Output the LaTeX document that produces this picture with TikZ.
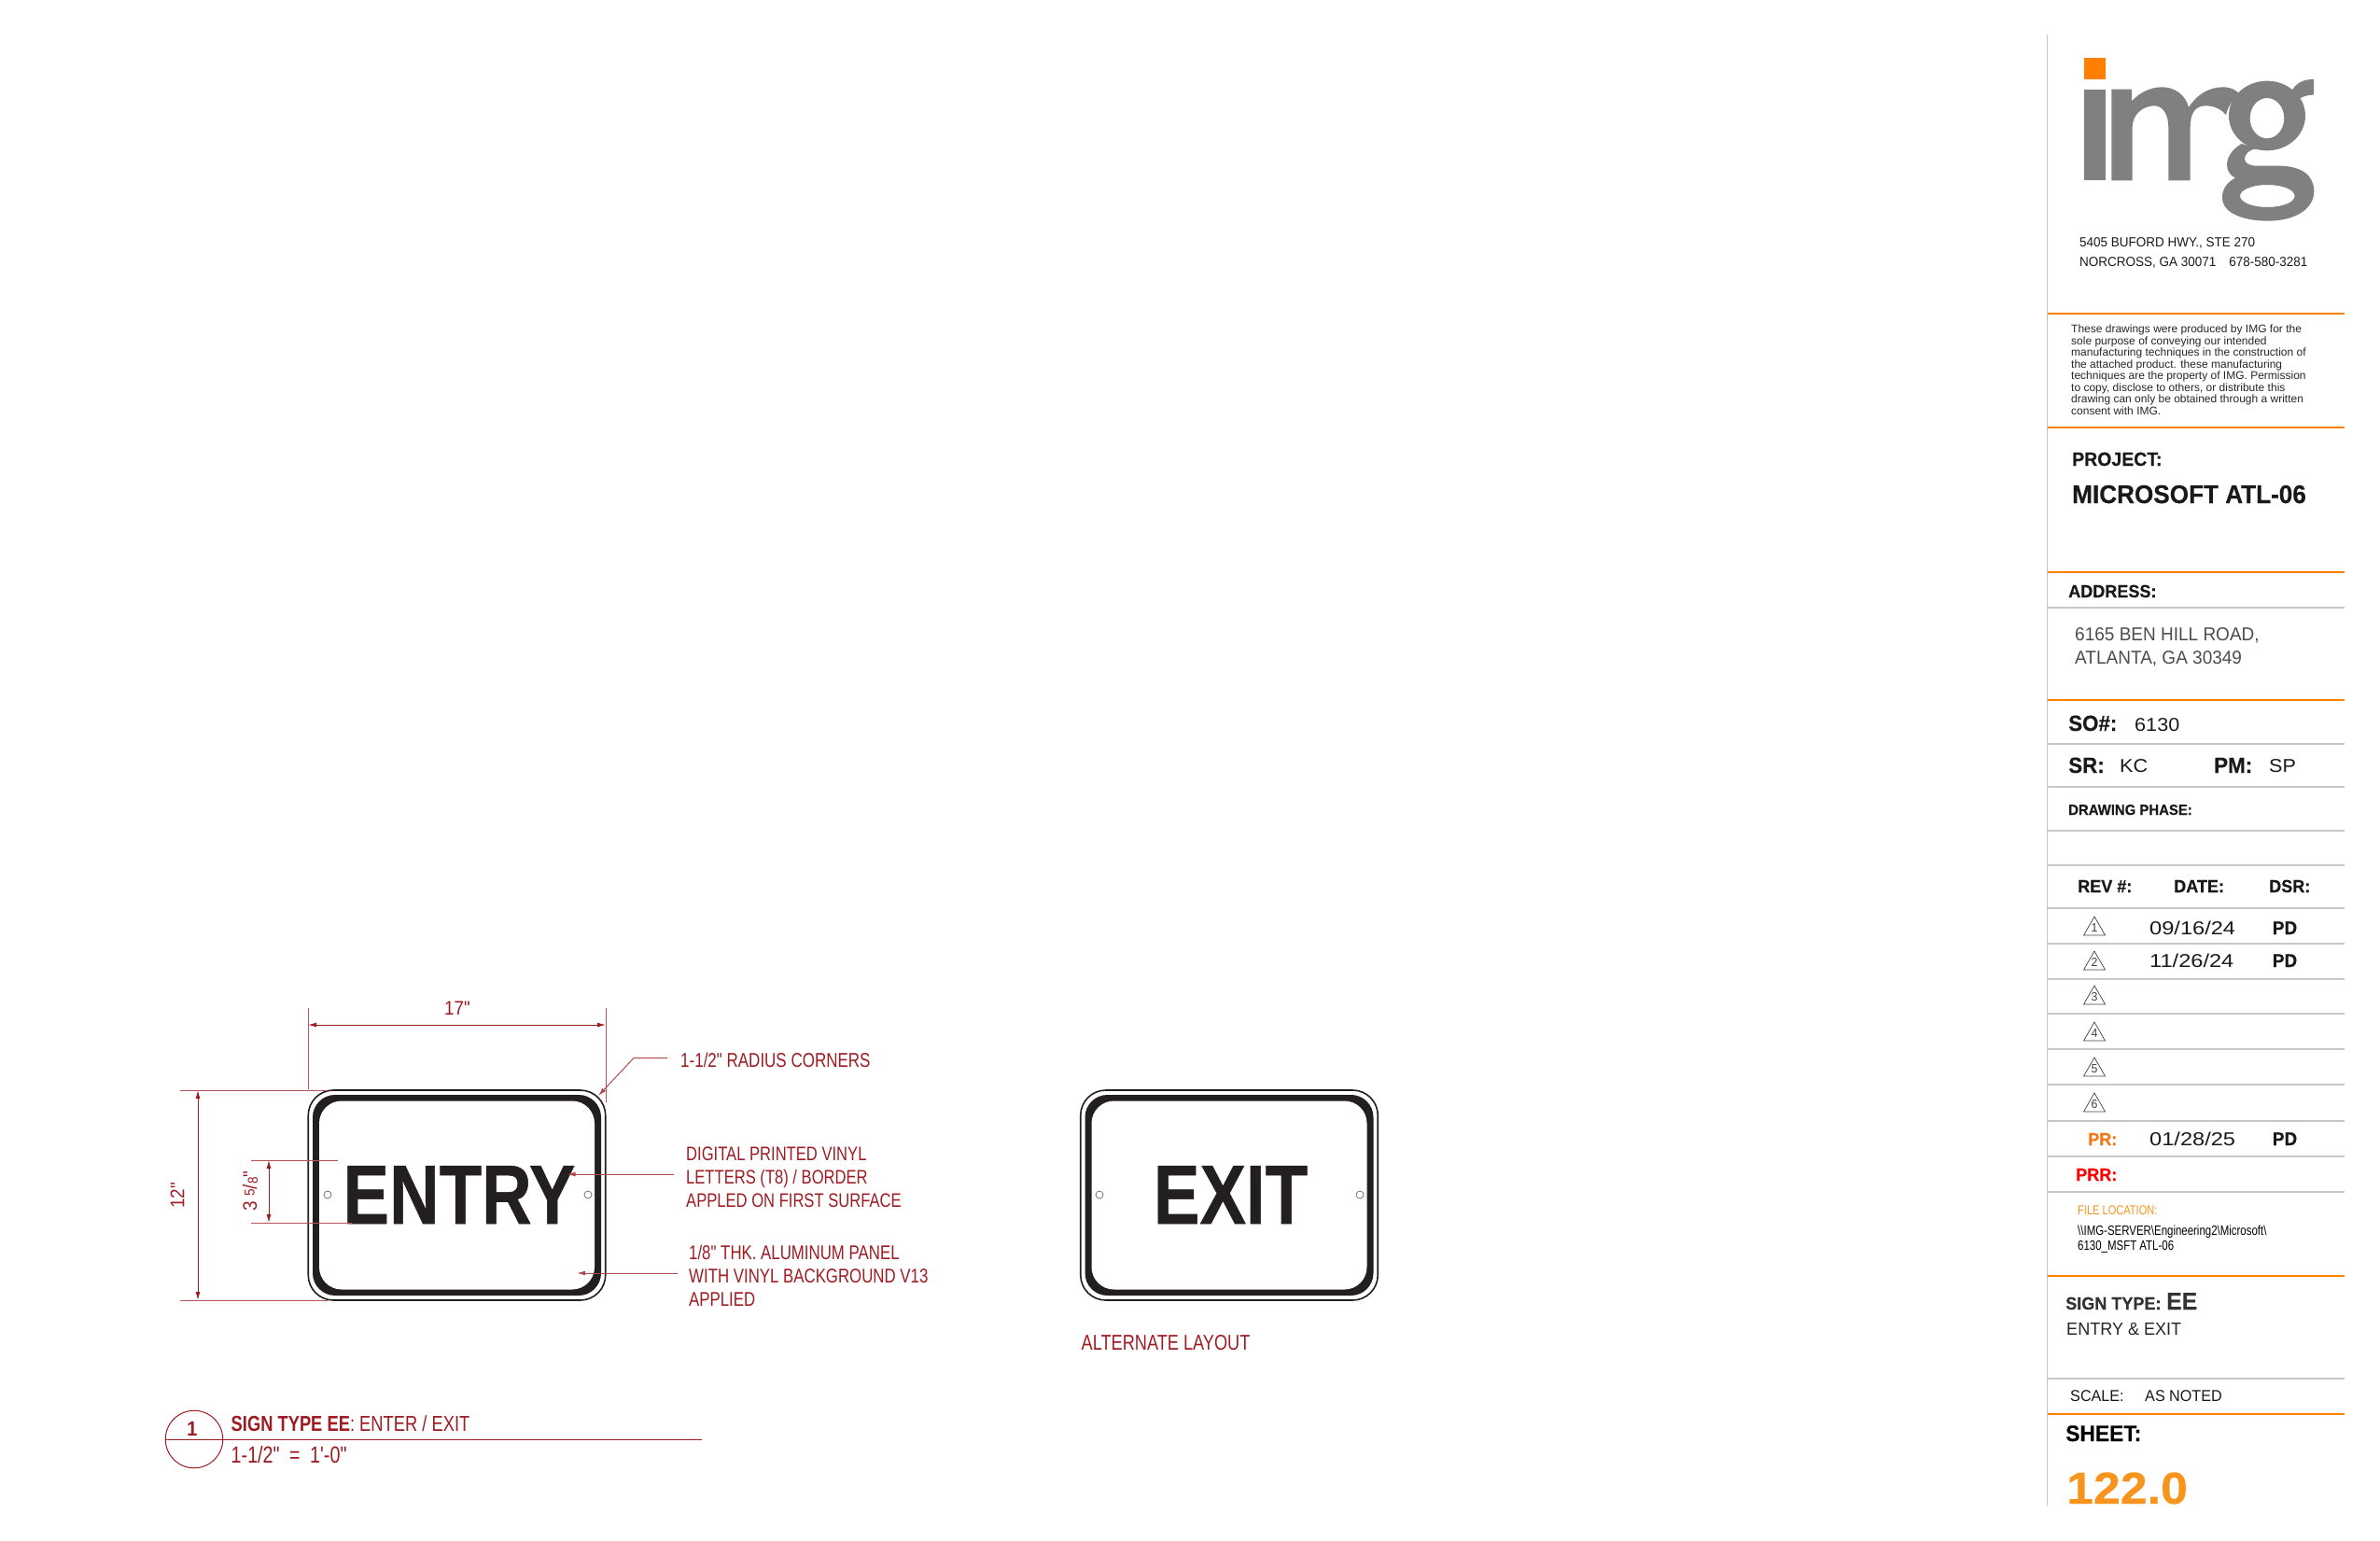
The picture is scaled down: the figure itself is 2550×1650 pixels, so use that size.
\documentclass[tikz,border=0pt]{standalone}
\usepackage{fontspec}
\usepackage{xcolor}
\usetikzlibrary{arrows.meta}
\usetikzlibrary{positioning}
\setmainfont{Liberation Sans}
\newfontfamily\condfont[FakeStretch=0.79]{Liberation Sans}
\newfontfamily\dimfont[FakeStretch=0.9]{Liberation Sans}
\newfontfamily\signfont[FakeStretch=0.825,BoldFeatures={FakeBold=0.6}]{Liberation Sans}
\newfontfamily\sidefont[FakeStretch=0.95,BoldFeatures={FakeBold=0.4}]{Liberation Sans}
\newfontfamily\discfont{Liberation Sans}
\newfontfamily\datefont[FakeStretch=1.18]{Liberation Sans}
\newfontfamily\numfont[FakeStretch=1.08,BoldFeatures={FakeBold=0.5}]{Liberation Sans}
\newcommand{\fsz}[2]{\fontsize{#1}{#2}\selectfont}
\definecolor{signred}{HTML}{9E1B22}
\definecolor{signblack}{HTML}{231F20}
\definecolor{imgorange}{HTML}{FF8000}
\definecolor{imggrey}{HTML}{808080}
\definecolor{sheetorange}{HTML}{F7941D}
\tikzset{
  lbl/.style={anchor=base west,inner sep=0pt},
  nw/.style={anchor=north west,inner sep=0pt,align=left},
  note/.style={nw,text=signred,font=\condfont\fsz{21}{25}},
  dimtext/.style={inner sep=0pt,text=signred,font=\dimfont\fsz{21}{25}},
  dimline/.style={draw=signred,line width=1pt,{Latex[length=9pt,width=5pt]}-{Latex[length=9pt,width=5pt]}},
  extline/.style={draw=signred!75,line width=.8pt},
  leader/.style={draw=signred!80,line width=1pt,-{Latex[length=9pt,width=5pt]}},
  signouter/.style={draw=signblack,fill=white,line width=1.6pt,minimum width=318.5pt,minimum height=225pt,rounded corners=27pt,inner sep=0pt},
  signborder/.style={fill=signblack,minimum width=309pt,minimum height=215pt,rounded corners=24pt,inner sep=0pt},
  signface/.style={fill=white,minimum width=295pt,minimum height=202pt,rounded corners=24pt,inner sep=0pt},
  signword/.style={anchor=base,inner sep=0pt,text=signblack,font=\signfont\bfseries\fsz{90}{90}},
  hole/.style={circle,draw=black!60,line width=.7pt,minimum size=8pt,inner sep=0pt},
  ruleorange/.style={draw=imgorange,line width=2.2pt},
  rulegrey/.style={draw=black!22,line width=1.8pt},
  revtri/.style={draw=black!75,line width=.7pt},
  revnum/.style={inner sep=0pt,text=black!75,font=\sidefont\fsz{13}{13}},
  side/.style={lbl,font=\sidefont\fsz{19}{19},text=black!90},
  sidebold/.style={lbl,font=\sidefont\bfseries\fsz{19}{19},text=black!90},
  revdate/.style={lbl,font=\datefont\fsz{20}{20},text=black!90},
  revdsr/.style={anchor=base,inner sep=0pt,font=\sidefont\bfseries\fsz{20}{20},text=black!90},
}
\begin{document}
\begin{tikzpicture}[x=1pt,y=-1pt]
\useasboundingbox (0,0) rectangle (2550,1650);
% entry sign
\node[signouter]  (entryouter)  at (489.5,1280.5) {};
\node[signborder] (entryborder) at (entryouter) {};
\node[signface]   (entryface)   at (entryouter) {};
\node[signword]   (entryword)   at (492,1311) {ENTRY};
\node[hole] (entryholel) at (351,1280) {};
\node[hole] (entryholer) at (630,1280) {};
% exit sign
\node[signouter]  (exitouter)  at (1317,1280.5) {};
\node[signborder] (exitborder) at (exitouter) {};
\node[signface]   (exitface)   at (exitouter) {};
\node[signword]   (exitword)   at (1318.5,1311) {EXIT};
\node[hole] (exitholel) at (1178,1280) {};
\node[hole] (exitholer) at (1457,1280) {};
\node[lbl,text=signred,font=\condfont\fsz{23}{23}] (altlabel) at (1158.5,1446.5) {ALTERNATE LAYOUT};
% width dimension
\coordinate (widthlt) at (330,1080);
\coordinate (widthlb) at (330,1167);
\coordinate (widthrt) at (649,1080);
\coordinate (widthrb) at (649,1181);
\coordinate (widthl) at (330,1098);
\coordinate (widthr) at (649,1098);
\draw[extline] (widthlt) -- (widthlb);
\draw[extline] (widthrt) -- (widthrb);
\draw[dimline] (widthl) -- (widthr);
\node[dimtext] (widthlabel) at (490,1080) {17"};
% height dimension
\coordinate (heighttl) at (193,1168);
\coordinate (heighttr) at (351,1168);
\coordinate (heightbl) at (193,1393);
\coordinate (heightbr) at (351,1393);
\coordinate (heightt) at (212,1168);
\coordinate (heightb) at (212,1393);
\draw[extline] (heighttl) -- (heighttr);
\draw[extline] (heightbl) -- (heightbr);
\draw[dimline] (heightt) -- (heightb);
\node[dimtext,rotate=90] (heightlabel) at (190,1281) {12"};
% letter dimension
\coordinate (lettertl) at (269,1243);
\coordinate (lettertr) at (362,1243);
\coordinate (letterbl) at (269,1310);
\coordinate (letterbr) at (377,1310);
\coordinate (lettert) at (288,1243);
\coordinate (letterb) at (288,1310);
\draw[extline] (lettertl) -- (lettertr);
\draw[extline] (letterbl) -- (letterbr);
\draw[dimline] (lettert) -- (letterb);
\node[dimtext,rotate=90] (letterlabel) at (268,1276) {3 \raisebox{2.5pt}{\fsz{15}{15}5}/\raisebox{-1pt}{\fsz{15}{15}8}"};
% callouts
\node[lbl,text=signred,font=\condfont\fsz{21.5}{25}] (radiusnote) at (729,1143) {1-1/2" RADIUS CORNERS};
\coordinate (radiusa) at (715,1133.5);
\coordinate (radiusb) at (679,1133.5);
\coordinate (radiusc) at (641,1174);
\draw[leader] (radiusa) -- (radiusb) -- (radiusc);
\node[note] (vinylnote) at (735,1229) {DIGITAL PRINTED VINYL\\LETTERS (T8) / BORDER\\APPLED ON FIRST SURFACE};
\coordinate (vinyla) at (722,1258);
\coordinate (vinylb) at (607.5,1258);
\draw[leader] (vinyla) -- (vinylb);
\node[note,font=\condfont\fsz{21.3}{25}] (panelnote) at (738,1334) {1/8" THK. ALUMINUM PANEL\\WITH VINYL BACKGROUND V13\\APPLIED};
\coordinate (panela) at (726,1364);
\coordinate (panelb) at (618,1364);
\draw[leader] (panela) -- (panelb);
% title
\node[circle,draw=signred,line width=1pt,minimum size=61.5pt,inner sep=0pt] (titlecircle) at (208,1542) {};
\node[inner sep=0pt,text=signred,font=\dimfont\bfseries\fsz{22}{22}] (titlenum) at (206,1531) {1};
\coordinate (titleend) at (752,1542);
\draw[draw=signred,line width=1pt] (titlecircle.west) -- (titleend);
\node[lbl,text=signred,font=\condfont\fsz{23.2}{24}] (titletext) at (247.5,1533.5) {\textbf{SIGN TYPE EE}: ENTER / EXIT};
\node[lbl,text=signred,font=\condfont\fsz{25}{25}] (titlescale) at (247.5,1567) {1-1/2"\hspace{5pt} = \hspace{5pt}1'-0"};
% title block rules
\draw[draw=black!22,line width=1.8pt] (2193.5,37) -- (2193.5,1613);
\foreach \ry in {336,458,613,750,1367,1515}
  \draw[ruleorange] (2193.5,\ry) -- (2512,\ry);
\foreach \ry in {651,797,843,890,927,973,1011,1049,1086,1124,1162,1201,1239,1277,1477}
  \draw[rulegrey] (2193.5,\ry) -- (2512,\ry);
% logo
\begin{scope}[shift={(2210,30)},x=.3333pt,y=-.3333pt]
\fill[imgorange] (70,95) rectangle (138,165);
\fill[imggrey] (70,197) rectangle (138,490);
\fill[imggrey] (157,197) -- (222,197) -- (222,235)
  .. controls (250,205) and (285,190) .. (320,190)
  .. controls (360,190) and (395,215) .. (405,255)
  .. controls (430,215) and (470,190) .. (515,190)
  .. controls (540,190) and (560,200) .. (570,215)
  .. controls (545,230) and (530,255) .. (525,280)
  .. controls (510,260) and (485,250) .. (460,250)
  .. controls (425,250) and (410,275) .. (410,320)
  -- (410,490) -- (340,490) -- (340,320)
  .. controls (340,275) and (320,250) .. (295,250)
  .. controls (255,250) and (224,280) .. (224,320)
  -- (224,490) -- (157,490) -- cycle;
\fill[imggrey,even odd rule] (657,282) ellipse [x radius=123,y radius=112]
  (657,290) ellipse [x radius=55,y radius=65];
\fill[imggrey] (735,205) .. controls (750,175) and (775,165) .. (807,165)
  -- (807,215) .. controls (780,215) and (755,225) .. (745,245) -- cycle;
\fill[imggrey,even odd rule] (575,372) .. controls (545,390) and (528,415) .. (528,440)
  .. controls (528,460) and (540,475) .. (555,482)
  .. controls (530,495) and (513,515) .. (513,545)
  .. controls (513,595) and (580,620) .. (660,620)
  .. controls (750,620) and (808,580) .. (808,525)
  .. controls (808,475) and (770,445) .. (700,443)
  -- (625,443) .. controls (600,443) and (585,435) .. (585,420)
  .. controls (585,405) and (600,390) .. (625,388) -- cycle
  (658,540) ellipse [x radius=88,y radius=36];
\end{scope}
% title block text
\node[lbl,font=\sidefont\fsz{14.2}{14},text=black!90] (addr1) at (2228,264) {5405 BUFORD HWY., STE 270};
\node[lbl,font=\sidefont\fsz{14.2}{14},text=black!90] (addr2) at (2228,285) {NORCROSS, GA 30071\hspace{14pt}678-580-3281};
\node[nw,font=\discfont\fsz{12}{12.5},text=black!85] (disclaimer) at (2219,348) {These drawings were produced by IMG for the\\sole purpose of conveying our intended\\manufacturing techniques in the construction of\\the attached product. these manufacturing\\techniques are the property of IMG. Permission\\to copy, disclose to others, or distribute this\\drawing can only be obtained through a written\\consent with IMG.};
\node[sidebold,font=\sidefont\bfseries\fsz{20.5}{20}] (projhead) at (2220,499) {PROJECT:};
\node[sidebold,font=\sidefont\bfseries\fsz{27.5}{27}] (projname) at (2220,539) {MICROSOFT ATL-06};
\node[sidebold] (addrhead) at (2216,640) {ADDRESS:};
\node[nw,font=\sidefont\fsz{20}{25},text=black!70] (siteaddr) at (2223,672) {6165 BEN HILL ROAD,\\ATLANTA, GA 30349};
\node[sidebold,font=\sidefont\bfseries\fsz{23.5}{22}] (sohead) at (2216,783) {SO\#:};
\node[side,font=\numfont\fsz{20}{20}] (soval) at (2287,783) {6130};
\node[sidebold,font=\sidefont\bfseries\fsz{23.5}{22}] (srhead) at (2216,828) {SR:};
\node[side,font=\numfont\fsz{20}{20}] (srval) at (2271,827) {KC};
\node[sidebold,font=\sidefont\bfseries\fsz{23.5}{22}] (pmhead) at (2372,828) {PM:};
\node[side,font=\numfont\fsz{20}{20}] (pmval) at (2431,827) {SP};
\node[sidebold,font=\sidefont\bfseries\fsz{15.7}{15}] (phasehead) at (2216,873) {DRAWING PHASE:};
\node[sidebold] (revhead) at (2226,956) {REV \#:};
\node[sidebold] (datehead) at (2329,956) {DATE:};
\node[sidebold] (dsrhead) at (2431,956) {DSR:};
\foreach \rb/\rn in {1002/1,1039/2,1076/3,1115/4,1153/5,1191/6} {
  \node[revnum] (rev\rn) at (2244,{\rb-8}) {\rn};
  \draw[revtri] (2232.5,\rb) -- (2244,{\rb-20}) -- (2255.5,\rb) -- cycle;
}
\node[revdate] (date1) at (2303,1001) {09/16/24};
\node[revdate] (date2) at (2303,1036) {11/26/24};
\node[revdate] (date3) at (2303,1227) {01/28/25};
\node[revdsr] (dsr1) at (2448,1001) {PD};
\node[revdsr] (dsr2) at (2448,1036) {PD};
\node[revdsr] (dsr3) at (2448,1227) {PD};
\node[sidebold,text=sheetorange!80!red] (prhead) at (2237,1227) {PR:};
\node[sidebold,text=red] (prrhead) at (2224,1265) {PRR:};
\node[lbl,font=\condfont\fsz{14}{14},text=sheetorange] (filehead) at (2226,1301) {FILE LOCATION:};
\node[nw,font=\condfont\fsz{14.5}{16},text=black] (filepath) at (2226,1313) {\textbackslash\textbackslash IMG-SERVER\textbackslash Engineering2\textbackslash Microsoft\textbackslash\\6130\_MSFT ATL-06};
\node[sidebold,text=black!80] (typehead) at (2213,1403) {SIGN TYPE:};
\node[sidebold,font=\sidefont\bfseries\fsz{26}{26},text=black!80] (typeval) at (2321,1403) {EE};
\node[side,text=black!85] (typename) at (2214,1430) {ENTRY \& EXIT};
\node[side,font=\sidefont\fsz{17}{17}] (scalehead) at (2218,1501) {SCALE:};
\node[side,font=\sidefont\fsz{17}{17}] (scaleval) at (2298,1501) {AS NOTED};
\node[sidebold,font=\sidefont\bfseries\fsz{24}{22},text=black] (sheethead) at (2213,1544) {SHEET:};
\node[lbl,font=\numfont\bfseries\fsz{48}{48},text=sheetorange] (sheetnum) at (2214,1611) {122.0};
\end{tikzpicture}
\end{document}
